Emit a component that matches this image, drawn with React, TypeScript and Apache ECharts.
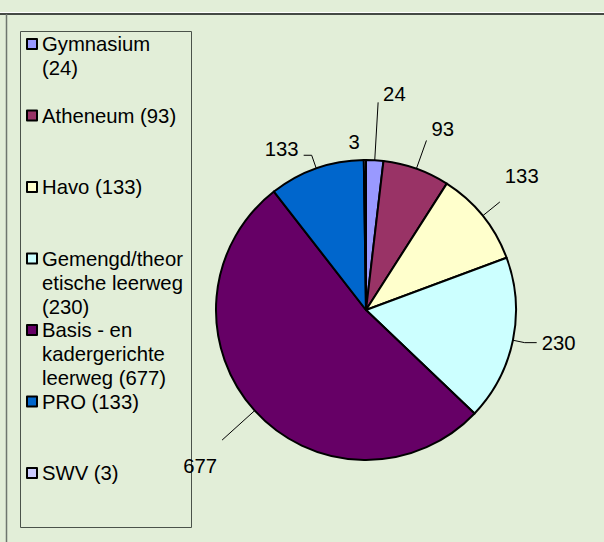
import React, { useEffect, useRef } from "react";
import * as echarts from "echarts";

const categories = ["Gymnasium", "Atheneum", "Havo", "Gemengd/theoretische leerweg", "Basis - en kadergerichte leerweg", "PRO", "SWV"];
const values = [24, 93, 133, 230, 677, 133, 3];
const legendLines = [
  ["Gymnasium", "(24)"],
  ["Atheneum (93)"],
  ["Havo (133)"],
  ["Gemengd/theor", "etische leerweg", "(230)"],
  ["Basis - en", "kadergerichte", "leerweg (677)"],
  ["PRO (133)"],
  ["SWV (3)"],
];
const colors = ["#9999FF", "#993366", "#FFFFCC", "#CCFFFF", "#660066", "#0066CC", "#CCCCFF"];

// label layout tweaks (presentation only)
const lineLen = [58, 30, 22, 12, 44, 14, 18];
const lineLen2 = [0, 0, 0, 12, 0, 8, 0];
const labelShift = [-8, -11, -26, 0, 26, -6, 0];
const lineShow = [true, true, true, true, true, true, false];

const FONT = "'Liberation Sans', Arial, sans-serif";
const LH = 24;

export default function App() {
  const ref = useRef<HTMLDivElement>(null);
  useEffect(() => {
    if (!ref.current) return;
    const chart = echarts.init(ref.current, null, { renderer: "svg" });
    const data = categories.map((name, i) => {
      const s = labelShift[i];
      const label: any = {};
      if (s < 0) {
        label.formatter = "{c}\n";
        label.lineHeight = -2 * s;
      } else if (s > 0) {
        label.formatter = "\n{c}";
        label.lineHeight = 2 * s;
      }
      return {
        name,
        value: values[i],
        itemStyle: { color: colors[i] },
        label,
        labelLine: { show: lineShow[i], length: lineLen[i], length2: lineLen2[i] },
      };
    });
    chart.setOption({
      animation: false,
      backgroundColor: "#E2EED8",
      graphic: [
        { type: "line", shape: { x1: 0, y1: 12.5, x2: 604, y2: 12.5 }, style: { stroke: "#FFFFFF", lineWidth: 1 } },
        { type: "line", shape: { x1: 0, y1: 14, x2: 604, y2: 14 }, style: { stroke: "#454A45", lineWidth: 2 } },
        { type: "line", shape: { x1: 6.5, y1: 14, x2: 6.5, y2: 542 }, style: { stroke: "#6E766E", lineWidth: 1.5 } },
        { type: "rect", shape: { x: 20.5, y: 31.5, width: 171, height: 496 }, style: { fill: "none", stroke: "#4A524A", lineWidth: 1 } },
      ],
      legend: {
        type: "plain",
        orient: "vertical",
        left: 26,
        top: -16,
        height: 1000,
        padding: 0,
        itemGap: 71.5 - 5 * LH,
        itemWidth: 10,
        itemHeight: 10,
        icon: "rect",
        selectedMode: false,
        itemStyle: { borderColor: "#000", borderWidth: 2 },
        textStyle: { fontSize: 20.3, fontFamily: FONT, color: "#000", lineHeight: LH },
        data: categories,
        formatter: (name: string) => {
          const idx = categories.indexOf(name);
          const lines = ["", "", ...legendLines[idx]];
          while (lines.length < 5) lines.push("");
          return lines.join("\n");
        },
      },
      series: [
        {
          type: "pie",
          center: [366, 310],
          radius: 150,
          startAngle: 90,
          clockwise: true,
          avoidLabelOverlap: false,
          emphasis: { disabled: true },
          itemStyle: { borderColor: "#000", borderWidth: 2 },
          label: {
            show: true,
            position: "outside",
            formatter: "{c}",
            fontSize: 20.3,
            fontFamily: FONT,
            color: "#000",
          },
          labelLine: { show: true, lineStyle: { color: "#000", width: 1 } },
          data,
        },
      ],
    });
    return () => chart.dispose();
  }, []);
  return <div ref={ref} style={{ position: "fixed", left: 0, top: 0, width: 604, height: 542 }} />;
}
